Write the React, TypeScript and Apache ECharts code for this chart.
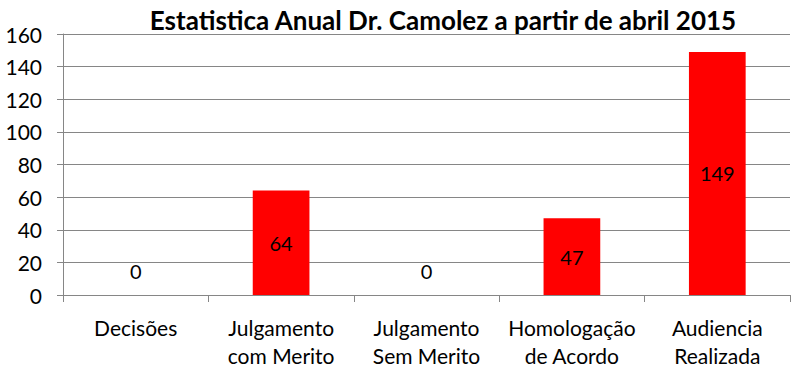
import React, { useEffect, useRef } from "react";
import * as echarts from "echarts";

const titleText = "Estatistica Anual Dr. Camolez a partir de abril 2015";
const categories = [
  "Decisões",
  "Julgamento\ncom Merito",
  "Julgamento\nSem Merito",
  "Homologação\nde Acordo",
  "Audiencia\nRealizada",
];
const values = [0, 64, 0, 47, 149];
const yMin = 0;
const yMax = 160;
const yInterval = 20;

const FONT = "Lato, 'Open Sans', sans-serif";

export default function App() {
  const ref = useRef<HTMLDivElement>(null);
  useEffect(() => {
    if (!ref.current) return;
    const chart = echarts.init(ref.current, undefined, { renderer: "svg" });
    chart.setOption({
      animation: false,
      backgroundColor: "#ffffff",
      title: {
        text: titleText,
        left: 438,
        textAlign: "center",
        top: 2,
        textStyle: { fontFamily: FONT, fontSize: 26, fontWeight: "bold", color: "#000" },
      },
      grid: { left: 63, right: 18, top: 34, bottom: 88, containLabel: false },
      xAxis: {
        type: "category",
        data: categories,
        axisLine: { lineStyle: { color: "#868686", width: 1 } },
        axisTick: { show: true, length: 7, lineStyle: { color: "#868686" }, alignWithLabel: false },
        axisLabel: {
          fontFamily: FONT,
          fontSize: 21,
          color: "#000",
          margin: 18,
          lineHeight: 28,
          interval: 0,
        },
      },
      yAxis: {
        type: "value",
        min: yMin,
        max: yMax,
        interval: yInterval,
        axisLine: { show: true, lineStyle: { color: "#868686", width: 1 } },
        axisTick: { show: true, length: 6, lineStyle: { color: "#868686" } },
        splitLine: { show: true, lineStyle: { color: "#868686", width: 1 } },
        axisLabel: { fontFamily: FONT, fontSize: 21, color: "#000", margin: 21 },
      },
      series: [
        {
          type: "bar",
          barWidth: "39%",
          itemStyle: { color: "#ff0000" },
          data: values.map((v) => ({
            value: v,
            label:
              v === 0
                ? { show: true, position: "top", distance: 14 }
                : { show: true, position: "inside" },
          })),
          label: { fontFamily: FONT, fontSize: 20, color: "#000" },
        },
      ],
    });
    return () => chart.dispose();
  }, []);
  return (
    <div
      ref={ref}
      style={{ position: "fixed", left: 0, top: 0, width: 808, height: 383 }}
    />
  );
}
